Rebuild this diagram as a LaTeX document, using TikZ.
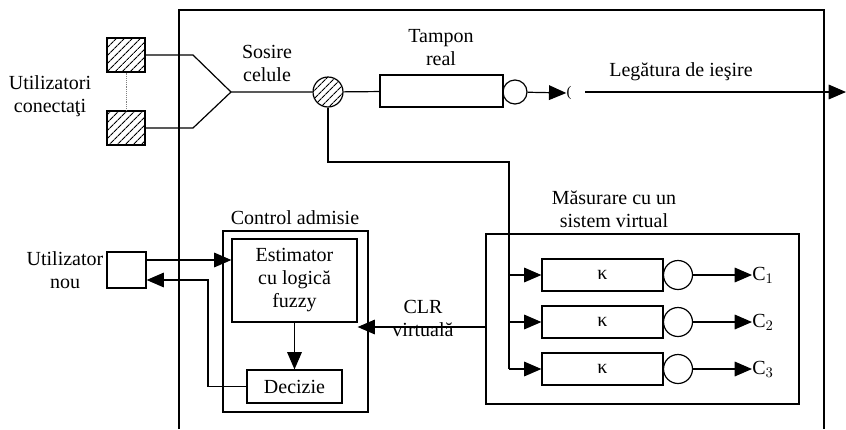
\documentclass[tikz,border=0pt]{standalone}
\usepackage{fontspec}
\setmainfont{Liberation Serif}
\usetikzlibrary{arrows.meta,positioning,patterns.meta}

\tikzset{
  blk/.style={draw, line width=0.9pt, inner sep=0pt, align=center},
  sz/.style 2 args={minimum width=#1*0.75pt, minimum height=#2*0.75pt},
  hatchfill/.style={pattern={Lines[angle=45, distance=4pt, line width=0.8pt]}},
  hatch/.style={blk, hatchfill},
  ring/.style={draw, line width=0.9pt, circle, inner sep=0pt, minimum size=#1*0.75pt},
  lnk/.style={line width=0.9pt},
  arr/.style={line width=0.9pt, -{Triangle[length=13pt,width=11pt]}},
  lbl/.style={align=center, inner sep=0pt}
}

\begin{document}
\begin{tikzpicture}[x=0.75pt, y=-0.75pt, font=\fontsize{15}{17.25}\selectfont]
  \useasboundingbox (0,0) rectangle (846,429);

  % cadrul mare (deschis jos)
  \draw[lnk] (179,429) -- (179,10) -- (824,10) -- (824,429);

  % utilizatori conectati
  \node[hatch, sz={38}{34}] (usrA) at (126,55) {};
  \node[hatch, sz={38}{34}] (usrB) at (126,128) {};
  \draw[densely dotted, gray] (usrA.south) -- (usrB.north);
  \node[lbl] (usrLbl) at (50,96) {Utilizatori\\conectaţi};

  \coordinate (kA) at (193,55);
  \coordinate (kB) at (193,128);
  \coordinate (join) at (231,92);
  \draw[lnk] (usrA.east) -- (kA) -- (join);
  \draw[lnk] (usrB.east) -- (kB) -- (join);
  \node[lbl] (arrLbl) at (267,63) {Sosire\\celule};

  % tampon real
  \node[ring=30, hatchfill] (split) at (328,92) {};
  \node[blk, sz={123}{32}] (buf) at (441.5,91) {};
  \node[lbl] (bufLbl) at (441,48) {Tampon\\real};
  \node[ring=24] (srv) at (515,92) {};
  \node[lbl, font=\fontsize{11}{12}\selectfont] (cap) at (569,93) {(};
  \draw[lnk] (join) -- (split) -- (buf);
  \draw[arr] (srv) -- (cap.west);

  % legatura de iesire
  \coordinate (outA) at (585,92);
  \coordinate (outB) at (846,92);
  \draw[arr] (outA) -- (outB);
  \node[lbl] (outLbl) at (681,72) {Legătura de ieşire};

  % masurare cu un sistem virtual
  \node[blk, sz={313}{170}] (meas) at (642.5,319) {};
  \node[lbl] (measLbl) at (614,209) {Măsurare cu un\\sistem virtual};
  \coordinate (tap) at (509,162);
  \draw[lnk] (split.south) |- (tap) -- (509,369);
  \foreach \i/\y in {1/275, 2/322, 3/369} {
    \node[blk, sz={121}{32}] (vb\i) at (602.5,\y) {κ};
    \node[ring=29] (vs\i) at (678,\y) {};
    \node[lbl, anchor=west] (c\i) at (752,\y) {C$_{\i}$};
    \draw[arr] (509,\y) -- (vb\i);
    \draw[arr] (vs\i) -- (c\i.west);
  }

  % control admisie
  \node[blk, sz={145}{181}] (adm) at (295.5,321.5) {};
  \node[lbl] (admLbl) at (295,218) {Control admisie};
  \node[blk, sz={125}{83}] (est) at (294.5,280.5) {Estimator\\cu logică\\fuzzy};
  \node[blk, sz={95}{33}] (dec) at (294.5,386.5) {Decizie};
  \draw[arr] (est) -- (dec);

  % CLR virtuala
  \draw[arr] (meas.west |- 0,327) -- (est.east |- 0,327);
  \node[lbl] (clrLbl) at (423,318) {CLR\\virtuală};

  % utilizator nou
  \node[blk, sz={39}{36}] (newU) at (126.5,270) {};
  \node[lbl] (newLbl) at (65,270) {Utilizator\\nou};
  \draw[arr] (newU.east |- 0,260) -- (est.west |- 0,260);
  \draw[arr] (dec.west) -| (208,280) -- (newU.east |- 0,280);
\end{tikzpicture}
\end{document}
